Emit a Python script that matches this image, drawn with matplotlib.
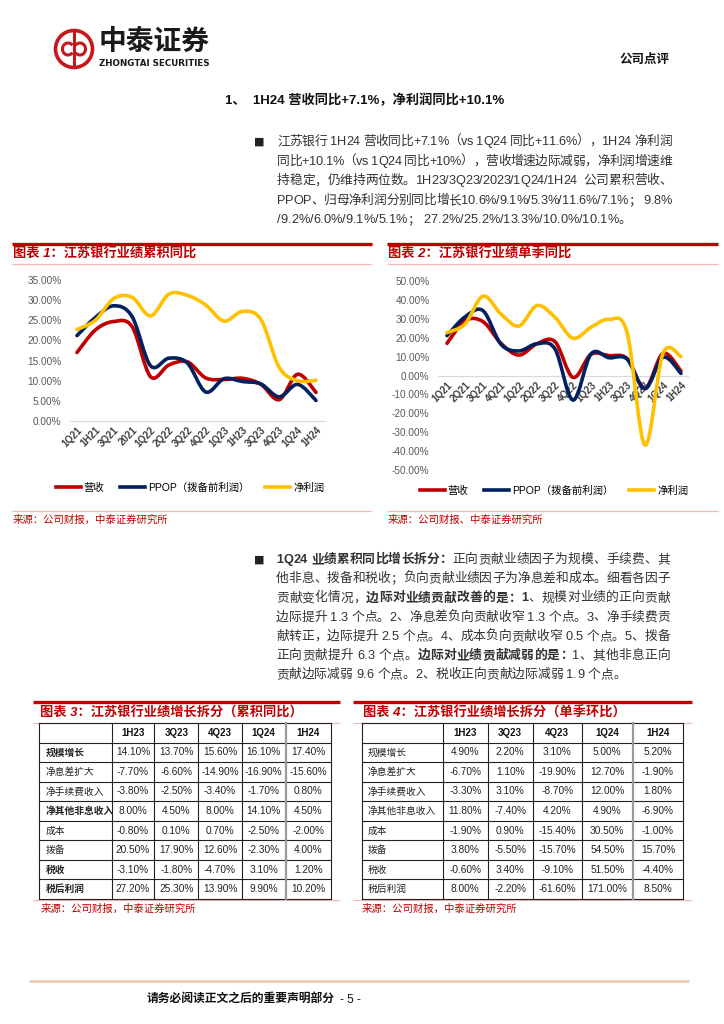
import matplotlib
matplotlib.use('Agg')
import matplotlib.pyplot as plt
from matplotlib.path import Path
from matplotlib.patches import PathPatch, Circle, Arc
from matplotlib.lines import Line2D

plt.rcParams['font.family'] = ['Liberation Sans', 'Noto Sans CJK SC', 'DejaVu Sans']

W, H = 724, 1024
RED = '#C00000'
NAVY = '#002060'
GOLD = '#FFC000'
PINK = '#F2B8B8'
TXT = '#333333'

# ---- chart 1: cumulative yoy (%)
cum_quarters = ['1Q21', '1H21', '3Q21', '2021', '1Q22', '2Q22', '3Q22', '4Q22',
                '1Q23', '1H23', '3Q23', '4Q23', '1Q24', '1H24']
cum_revenue = [17.0, 22.6, 24.7, 23.4, 11.0, 13.9, 14.7, 10.7, 10.3, 10.6, 9.1, 5.3, 11.6, 7.1]
cum_ppop = [21.2, 25.7, 28.6, 25.9, 13.7, 15.6, 14.4, 7.2, 10.5, 9.8, 9.2, 6.0, 9.1, 5.1]
cum_profit = [22.7, 25.0, 30.4, 30.7, 26.1, 31.5, 31.2, 28.8, 24.8, 27.2, 25.2, 13.3, 10.0, 10.1]

# ---- chart 2: single quarter yoy (%)
sq_quarters = ['1Q21', '2Q21', '3Q21', '4Q21', '1Q22', '2Q22', '3Q22', '4Q22',
               '1Q23', '1H23', '3Q23', '4Q23', '1Q24', '1H24']
sq_revenue = [17.0, 29.0, 28.5, 17.0, 10.8, 16.8, 17.9, -1.0, 11.2, 10.5, 9.0, -6.8, 11.7, 2.4]
sq_ppop = [21.1, 31.0, 34.3, 16.5, 13.0, 16.8, 14.0, -13.0, 11.4, 9.4, 8.7, -7.0, 9.6, 1.1]
sq_profit = [22.7, 27.2, 42.0, 32.5, 26.2, 37.0, 30.8, 19.7, 25.5, 29.7, 23.0, -36.8, 11.7, 10.1]

series_names = ['营收', 'PPOP（拨备前利润）', '净利润']

# ---- tables 3 and 4
tbl_periods = ['1H23', '3Q23', '4Q23', '1Q24', '1H24']
tbl_rows = ['规模增长', '净息差扩大', '净手续费收入', '净其他非息收入', '成本', '拨备', '税收', '税后利润']
t3_bold_rows = ['规模增长', '净其他非息收入', '税收', '税后利润']
t3_values = [
    [14.10, 13.70, 15.60, 16.10, 17.40],
    [-7.70, -6.60, -14.90, -16.90, -15.60],
    [-3.80, -2.50, -3.40, -1.70, 0.80],
    [8.00, 4.50, 8.00, 14.10, 4.50],
    [-0.80, 0.10, 0.70, -2.50, -2.00],
    [20.50, 17.90, 12.60, -2.30, 4.00],
    [-3.10, -1.80, -4.70, 3.10, 1.20],
    [27.20, 25.30, 13.90, 9.90, 10.20],
]
t4_values = [
    [4.90, 2.20, 3.10, 5.00, 5.20],
    [-6.70, 1.10, -19.90, 12.70, -1.90],
    [-3.30, 3.10, -8.70, 12.00, 1.80],
    [11.80, -7.40, 4.20, 4.90, -6.90],
    [-1.90, 0.90, -15.40, 30.50, -1.00],
    [3.80, -5.50, -15.70, 54.50, 15.70],
    [-0.60, 3.40, -9.10, 51.50, -4.40],
    [8.00, -2.20, -61.60, 171.00, 8.50],
]

para1 = [
    [('江苏银行 1H24 营收同比+7.1%（vs 1Q24 同比+11.6%），1H24 净利润', 'normal')],
    [('同比+10.1%（vs 1Q24 同比+10%），营收增速边际减弱，净利润增速维', 'normal')],
    [('持稳定，仍维持两位数。1H23/3Q23/2023/1Q24/1H24  公司累积营收、', 'normal')],
    [('PPOP、归母净利润分别同比增长10.6%/9.1%/5.3%/11.6%/7.1%； 9.8%', 'normal')],
    [('/9.2%/6.0%/9.1%/5.1%； 27.2%/25.2%/13.3%/10.0%/10.1%。', 'normal')],
]
para2 = [
    [('1Q24 业绩累积同比增长拆分：', 'bold'), ('正向贡献业绩因子为规模、手续费、其', 'normal')],
    [('他非息、拨备和税收；负向贡献业绩因子为净息差和成本。细看各因子', 'normal')],
    [('贡献变化情况，', 'normal'), ('边际对业绩贡献改善的是：1', 'bold'), ('、规模对业绩的正向贡献', 'normal')],
    [('边际提升 1.3 个点。2、净息差负向贡献收窄 1.3 个点。3、净手续费贡', 'normal')],
    [('献转正，边际提升 2.5 个点。4、成本负向贡献收窄 0.5 个点。5、拨备', 'normal')],
    [('正向贡献提升 6.3 个点。', 'normal'), ('边际对业绩贡献减弱的是：', 'bold'), ('1、其他非息正向', 'normal')],
    [('贡献边际减弱 9.6 个点。2、税收正向贡献边际减弱 1.9 个点。', 'normal')],
]

fig = plt.figure(figsize=(W / 100, H / 100), dpi=100)
ov = fig.add_axes([0, 0, 1, 1])
ov.set_xlim(0, W)
ov.set_ylim(H, 0)
ov.axis('off')
renderer = fig.canvas.get_renderer()


def fax(l, t, r, b):
    return fig.add_axes([l / W, 1 - b / H, (r - l) / W, (b - t) / H])


def hline(x0, x1, y, color, lw):
    ov.plot([x0, x1], [y, y], color=color, lw=lw, solid_capstyle='butt')


_wcache = {}


def char_w(c, size, weight):
    key = (c, size, weight)
    if key not in _wcache:
        a = ov.text(0, 0, '|' + c + '|', fontsize=size, weight=weight)
        b = ov.text(0, 0, '||', fontsize=size, weight=weight)
        _wcache[key] = a.get_window_extent(renderer).width - b.get_window_extent(renderer).width
        a.remove()
        b.remove()
    return _wcache[key]


def draw_runs(x, y, runs, size, color=TXT, right=None):
    chars = [(c, wt) for s, wt in runs for c in s]
    ws = [char_w(c, size, wt) for c, wt in chars]
    gap = 0
    if right is not None and len(chars) > 1:
        gap = (right - x - sum(ws)) / (len(chars) - 1)
    for (c, wt), w in zip(chars, ws):
        if c != ' ':
            ov.text(x, y, c, fontsize=size, weight=wt, color=color, ha='left', va='baseline')
        x += w + gap


def smooth(ax, ys, color, lw=2.6):
    # Excel-like smoothed line through the points (cubic bezier segments)
    pts = list(enumerate(ys))
    n = len(pts)
    verts = [pts[0]]
    codes = [Path.MOVETO]
    for i in range(n - 1):
        p0 = pts[max(i - 1, 0)]
        p1 = pts[i]
        p2 = pts[i + 1]
        p3 = pts[min(i + 2, n - 1)]
        c1 = (p1[0] + (p2[0] - p0[0]) / 6, p1[1] + (p2[1] - p0[1]) / 6)
        c2 = (p2[0] - (p3[0] - p1[0]) / 6, p2[1] - (p3[1] - p1[1]) / 6)
        verts += [c1, c2, p2]
        codes += [Path.CURVE4] * 3
    ax.add_patch(PathPatch(Path(verts, codes), fill=False, edgecolor=color, lw=lw,
                           capstyle='round', joinstyle='round', zorder=3))


# ---------------- header
ov.add_patch(Circle((74, 49), 18.5, fill=False, edgecolor='#C8161D', lw=2.6))
ov.plot([74, 74], [33, 65], color='#C8161D', lw=2.2)
ov.add_patch(Arc((68, 49), 11, 12, theta1=40, theta2=320, edgecolor='#C8161D', lw=2.2))
ov.add_patch(Arc((80, 49), 11, 12, theta1=220, theta2=140, edgecolor='#C8161D', lw=2.2))
ov.text(99, 43, '中泰证券', fontsize=20, weight='bold', color='#1a1a1a', va='center', ha='left')
ov.text(99, 63.5, 'ZHONGTAI SECURITIES', fontsize=6.3, weight='bold', color='#1a1a1a',
        va='center', ha='left', family=['DejaVu Sans'])
ov.text(670, 60, '公司点评', fontsize=9, weight='bold', color='#111111', va='center', ha='right')
ov.text(365, 100, '1、  1H24 营收同比+7.1%，净利润同比+10.1%', fontsize=9.5, weight='bold',
        color='#111111', va='center', ha='center')

# ---------------- paragraph 1
ov.text(254, 145, '■', fontsize=8, color='#222222', va='baseline', ha='left', family=['DejaVu Sans'])
for i, runs in enumerate(para1):
    last = i == len(para1) - 1
    draw_runs(277, 145 + i * 19.6, runs, 9.2, right=None if last else 672)

# ---------------- chart frames
for x0, x1, title, src in [(12, 372, '图表 1：江苏银行业绩累积同比', '来源：公司财报，中泰证券研究所'),
                           (387, 718, '图表 2：江苏银行业绩单季同比', '来源：公司财报、中泰证券研究所')]:
    hline(x0, x1, 244, RED, 2.4)
    hline(x0, x1, 264, PINK, 0.9)
    hline(x0, x1, 511, PINK, 0.9)
    ov.text(x0 + 1, 254.5, title, fontsize=9.5, weight='bold', color=RED, va='center', ha='left',
            style='italic')
    ov.text(x0 + 1, 520, src, fontsize=7.5, color=RED, va='center', ha='left')


def style_axes(ax):
    for s in ['top', 'right', 'left']:
        ax.spines[s].set_visible(False)
    ax.spines['bottom'].set_color('#D9D9D9')
    ax.spines['bottom'].set_linewidth(0.9)
    ax.tick_params(axis='both', length=0)
    ax.tick_params(axis='y', labelsize=7.2, labelcolor='#595959', pad=6)
    ax.set_facecolor('none')


# chart 1
ax1 = fax(70, 280, 325, 421)
style_axes(ax1)
ax1.set_xlim(-0.38, 13.49)
ax1.set_ylim(0, 35)
ax1.set_yticks(range(0, 36, 5))
ax1.set_yticklabels([f'{v:.2f}%' for v in range(0, 36, 5)])
ax1.set_xticks(range(len(cum_quarters)))
ax1.set_xticklabels(cum_quarters, rotation=45, ha='right', rotation_mode='anchor',
                    fontsize=7, weight='bold', color='#404040')
ax1.tick_params(axis='x', pad=3)
for ys, c in [(cum_revenue, RED), (cum_ppop, NAVY), (cum_profit, GOLD)]:
    smooth(ax1, ys, c)

# chart 2
ax2 = fax(438, 281, 688, 470)
style_axes(ax2)
ax2.spines['bottom'].set_position(('data', 0))
ax2.set_xlim(-0.5, 13.39)
ax2.set_ylim(-50, 50)
ax2.set_yticks(range(-50, 51, 10))
ax2.set_yticklabels([f'{v:.2f}%' for v in range(-50, 51, 10)])
ax2.set_xticks(range(len(sq_quarters)))
ax2.set_xticklabels(sq_quarters, rotation=45, ha='right', rotation_mode='anchor',
                    fontsize=7, weight='bold', color='#404040')
ax2.tick_params(axis='x', pad=3)
for ys, c in [(sq_revenue, RED), (sq_ppop, NAVY), (sq_profit, GOLD)]:
    smooth(ax2, ys, c)

handles = [Line2D([], [], color=c, lw=2.6) for c in (RED, NAVY, GOLD)]
for cx, cy in [(190, 488), (554, 491)]:
    fig.legend(handles, series_names, loc='center', bbox_to_anchor=(cx / W, 1 - cy / H),
               ncol=3, frameon=False, fontsize=7.5, handlelength=2.4, handletextpad=0.3,
               columnspacing=1.5)

# ---------------- paragraph 2
ov.text(254, 563, '■', fontsize=8, color='#222222', va='baseline', ha='left', family=['DejaVu Sans'])
for i, runs in enumerate(para2):
    last = i == len(para2) - 1
    draw_runs(276, 563 + i * 19.2, runs, 9.2, right=None if last else 670)


# ---------------- tables
def draw_table(cols, label_x, values, bold_rows, title, title_x, frame, src_x):
    fx0, fx1 = frame
    top, rh = 723, 19.55
    hline(fx0, fx1, 702, RED, 2.4)
    hline(fx0, fx1, top, PINK, 0.9)
    hline(fx0, fx1, 899.5, PINK, 0.9)
    ov.text(title_x, 713, title, fontsize=9.5, weight='bold', color=RED, va='center', ha='left',
            style='italic')
    ov.text(src_x, 909, '来源：公司财报，中泰证券研究所', fontsize=7.5, color=RED, va='center', ha='left')
    nrows = len(tbl_rows) + 1
    for k in range(nrows + 1):
        ov.plot([cols[0], cols[-1]], [top + k * rh] * 2, color='#222222', lw=0.8)
    for j, x in enumerate(cols):
        c = '#9a9a9a' if j == 5 else '#222222'
        ov.plot([x, x], [top, top + nrows * rh], color=c, lw=1.6 if j == 5 else 0.8)
    for j, p in enumerate(tbl_periods):
        ov.text((cols[j + 1] + cols[j + 2]) / 2, top + rh / 2, p, fontsize=7, weight='bold',
                color='#111111', ha='center', va='center')
    for i, name in enumerate(tbl_rows):
        cy = top + (i + 1.5) * rh
        ov.text(label_x, cy, name, fontsize=7, color='#222222', ha='left', va='center',
                weight='bold' if name in bold_rows else 'normal')
        for j, v in enumerate(values[i]):
            ov.text((cols[j + 1] + cols[j + 2]) / 2, cy, f'{v:.2f}%', fontsize=7.3,
                    color='#222222', ha='center', va='center')


draw_table([39.3, 111.7, 154.3, 198.3, 241.7, 285.7, 330.7], 46, t3_values, t3_bold_rows,
           '图表 3：江苏银行业绩增长拆分（累积同比）', 40, (33, 340), 41)
draw_table([361.7, 442.7, 487.7, 532.7, 581.7, 632.7, 683.3], 368, t4_values, [],
           '图表 4：江苏银行业绩增长拆分（单季环比）', 363, (353, 692), 362)

# ---------------- footer
hline(29, 689, 981, '#E8CDB8', 2)
ov.text(147, 1000, '请务必阅读正文之后的重要声明部分', fontsize=8.5, weight='bold', color='#111111',
        va='center', ha='left')
ov.text(340, 1000, '- 5 -', fontsize=8.5, color='#111111', va='center', ha='left')

fig.savefig('out.png', dpi=100, facecolor='white')
